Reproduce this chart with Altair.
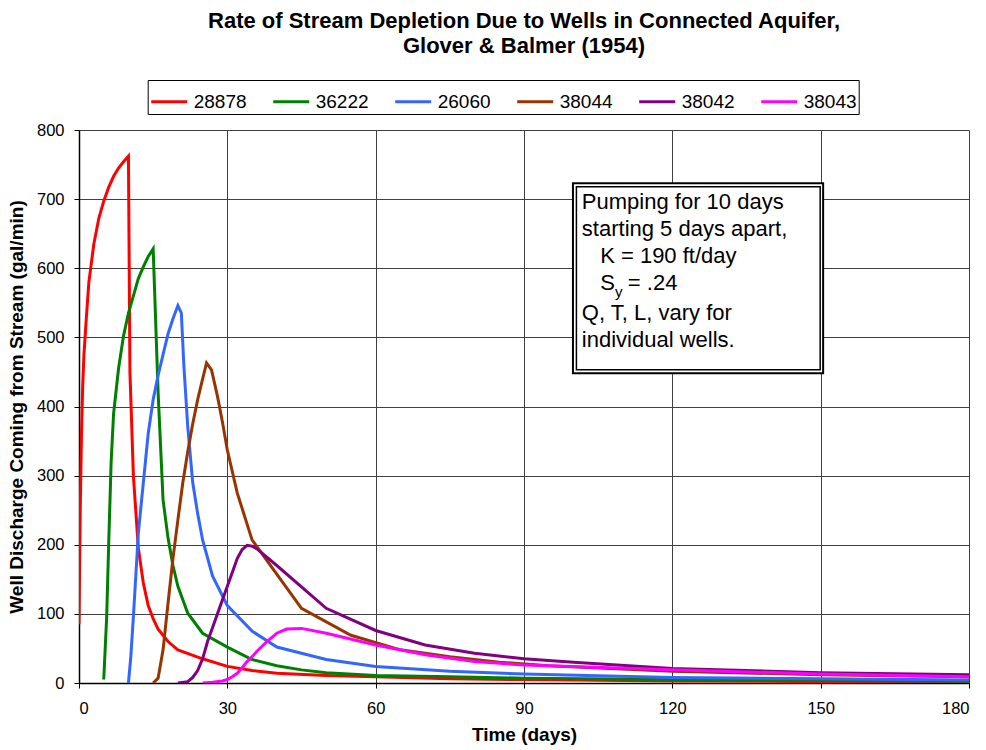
import altair as alt
import pandas as pd

wells = ["28878", "36222", "26060", "38044", "38042", "38043"]
colors = ["#FF0000", "#008000", "#3366FF", "#993300", "#800080", "#FF00FF"]

x_28878 = [0, 0.25, 0.5, 0.75, 1, 1.5, 2, 3, 4, 5, 6, 7, 8, 9, 10, 10.3, 11, 12, 13, 14, 15, 16, 18, 20, 25, 30, 35, 40, 50, 60, 75, 90, 120, 150, 180]
y_28878 = [85, 250, 360, 430, 475, 530, 580, 635, 672, 697, 717, 733, 745, 754, 762, 450, 300, 195, 145, 112, 93, 78, 60, 48, 35, 24, 18, 14, 11, 9, 6, 5, 3, 2, 1.5]

x_36222 = [5, 5.3, 5.6, 6, 6.5, 7, 8, 9, 10, 11, 12, 13, 14, 15, 16, 17, 18, 19, 20, 22, 25, 30, 35, 40, 45, 50, 60, 75, 90, 120, 150, 180]
y_36222 = [5, 50, 96, 200, 320, 390, 455, 502, 535, 560, 585, 602, 617, 628, 420, 265, 210, 170, 140, 101, 72, 52, 34, 25, 19, 15, 11, 9, 7, 5, 3.5, 2.5]

x_26060 = [10, 10.5, 11, 12, 13, 14, 15, 16, 17, 18, 19, 20, 20.7, 21.2, 22, 23, 24, 25, 27, 30, 35, 40, 50, 60, 75, 90, 120, 150, 180]
y_26060 = [0, 40, 96, 217, 289, 361, 410, 445, 475, 505, 527, 546, 535, 460, 370, 290, 245, 207, 155, 112, 75, 52, 34, 24, 17, 13, 8, 6, 4.5]

x_38044 = [15, 16, 17, 18, 19, 20, 21, 22, 23, 24, 25, 25.8, 26.8, 28, 29, 30, 32, 35, 45, 55, 65, 75, 85, 95, 120, 150, 180]
y_38044 = [0, 7, 48, 115, 180, 236, 290, 335, 375, 410, 440, 463, 453, 415, 378, 337, 275, 207, 108, 69, 48, 38, 30, 25, 17, 12, 9]

x_38042 = [20, 22, 23, 24, 25, 26, 27, 28, 29, 30, 31, 32, 33, 34, 35, 36, 40, 50, 60, 70, 80, 90, 100, 120, 150, 180]
y_38042 = [0, 2, 8, 18, 35, 60, 80, 100, 120, 140, 160, 180, 193, 199, 198, 194, 170, 108, 76, 55, 43, 35, 30, 21, 15, 12]

x_38043 = [25, 27, 29, 30, 31, 32, 33, 34, 35, 36, 38, 40, 42, 45, 50, 60, 70, 80, 90, 120, 150, 180]
y_38043 = [0, 1, 3, 5, 9, 14, 22, 31, 38, 46, 60, 72, 78, 79, 72, 55, 41, 31, 26, 19, 13, 9]

series_x = [x_28878, x_36222, x_26060, x_38044, x_38042, x_38043]
series_y = [y_28878, y_36222, y_26060, y_38044, y_38042, y_38043]

x_ticks = [0, 30, 60, 90, 120, 150, 180]
y_ticks = [0, 100, 200, 300, 400, 500, 600, 700, 800]

# annotation box (data coordinates)
box_x = [99.9, 100.6]
box_x2 = [150.5, 149.9]
box_y = [723, 718]
box_y2 = [448, 453]
box_w = [2, 1.5]

ann_text = ["Pumping for 10 days", "starting 5 days apart,", "K = 190 ft/day", "S", "y", "= .24",
            "Q, T, L, vary for", "individual wells."]
ann_x = [101.7, 101.7, 105.4, 105.4, 108.4, 111.0, 101.7, 101.7]
ann_y = [686, 647, 607, 568, 558, 568, 525, 486]
ann_size = [22, 22, 22, 22, 15, 22, 22, 22]

rows = []
for w, xs, ys in zip(wells, series_x, series_y):
    for i, (a, b) in enumerate(zip(xs, ys)):
        rows.append({"well": w, "t": a, "q": b, "i": i})
df = pd.DataFrame(rows)

box_df = pd.DataFrame({"x": box_x, "x2": box_x2, "y": box_y, "y2": box_y2, "w": box_w})
ann_df = pd.DataFrame({"text": ann_text, "x": ann_x, "y": ann_y, "s": ann_size})

FONT = "Liberation Sans"

xscale = alt.Scale(domain=[0, 180], nice=False, zero=False)
yscale = alt.Scale(domain=[0, 800], nice=False)

lines = alt.Chart(df).mark_line(strokeWidth=3, clip=True).encode(
    x=alt.X("t:Q", scale=xscale,
            axis=alt.Axis(values=x_ticks, title="Time (days)", grid=True, gridColor="#404040",
                          gridWidth=1, domainColor="#000", domainWidth=1.5, tickColor="#000",
                          tickSize=5, labelPadding=12, labelFontSize=16.5, labelFont=FONT,
                          labelColor="#000", titleFont=FONT, titleFontSize=19, titleFontWeight="bold",
                          titleColor="#000", titlePadding=9)),
    y=alt.Y("q:Q", scale=yscale,
            axis=alt.Axis(values=y_ticks, title="Well Discharge Coming from Stream (gal/min)",
                          grid=True, gridColor="#404040", gridWidth=1, domainColor="#000",
                          domainWidth=1.5, tickColor="#000", tickSize=5, labelPadding=10,
                          labelFontSize=16.5, labelFont=FONT, labelColor="#000", titleFont=FONT,
                          titleFontSize=19, titleFontWeight="bold", titleColor="#000",
                          titlePadding=10)),
    color=alt.Color("well:N", scale=alt.Scale(domain=wells, range=colors), title=None,
                    legend=alt.Legend(orient="none", legendX=68.7, legendY=-50, direction="horizontal",
                                      columns=6, symbolType="stroke", symbolStrokeWidth=3,
                                      symbolSize=1296, labelFontSize=19, labelFont=FONT,
                                      labelColor="#000", labelOffset=5, columnPadding=20,
                                      padding=2, strokeColor="#000", fillColor="#fff")),
    order="i:Q",
)

boxes = alt.Chart(box_df).mark_rect(fill="#fff", stroke="#000").encode(
    x="x:Q", x2="x2", y="y:Q", y2="y2",
    strokeWidth=alt.StrokeWidth("w:Q", scale=None),
)

ann = alt.Chart(ann_df).mark_text(align="left", baseline="alphabetic", font=FONT, color="#000").encode(
    x="x:Q", y="y:Q", text="text:N",
    size=alt.Size("s:Q", scale=None),
)

chart = alt.layer(lines, boxes, ann).properties(
    width=890, height=553,
    title=alt.TitleParams(
        text=["Rate of Stream Depletion Due to Wells in Connected Aquifer,", "Glover & Balmer (1954)"],
        font=FONT, fontSize=22, fontWeight="bold", color="#000", anchor="middle",
        lineHeight=25, offset=22,
    ),
    autosize=alt.AutoSizeParams(type="none"),
    padding={"left": 79, "top": 130, "right": 17, "bottom": 67},
).configure_view(stroke="#808080", strokeWidth=1).configure(background="#fff")

chart.save("out.html", embed_options={"renderer": "svg", "actions": False})
